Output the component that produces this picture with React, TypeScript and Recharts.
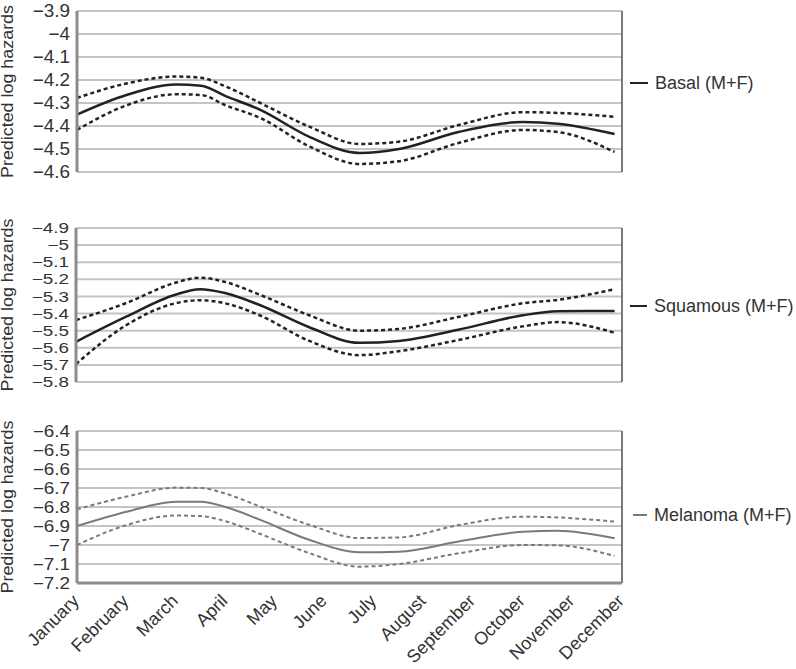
import React from 'react';
import { LineChart, Line, XAxis, YAxis, CartesianGrid, ReferenceLine, Legend } from 'recharts';

const FONT = '"Liberation Sans", Arial, Helvetica, sans-serif';

const MONTHS = ['January', 'February', 'March', 'April', 'May', 'June', 'July', 'August', 'September', 'October', 'November', 'December'];
const MONTH_TICKS = [0, 1, 2, 3, 4, 5, 6, 7, 8, 9, 10, 11];
const WEEK_COUNT = 52;
const WEEK_TICKS = Array.from({ length: WEEK_COUNT + 1 }, (_, k) => (k * 11) / WEEK_COUNT);

// position along the year (in month units, January = 0)
const T = [0, 1, 2, 2.5, 3, 3.7, 4.7, 5.7, 6.5, 7.7, 9, 9.7, 10.85];

const BASAL_EST = [-4.35, -4.265, -4.22, -4.225, -4.27, -4.33, -4.448, -4.517, -4.5, -4.426, -4.383, -4.39, -4.435];
const BASAL_UPPER = [-4.278, -4.215, -4.185, -4.19, -4.228, -4.3, -4.404, -4.478, -4.468, -4.396, -4.34, -4.343, -4.36];
const BASAL_LOWER = [-4.417, -4.31, -4.262, -4.265, -4.31, -4.365, -4.49, -4.565, -4.553, -4.474, -4.417, -4.426, -4.513];

const SQUAMOUS_EST = [-5.565, -5.42, -5.29, -5.258, -5.28, -5.35, -5.48, -5.571, -5.56, -5.495, -5.41, -5.387, -5.385];
const SQUAMOUS_UPPER = [-5.438, -5.34, -5.22, -5.19, -5.215, -5.29, -5.41, -5.5, -5.49, -5.42, -5.34, -5.32, -5.258];
const SQUAMOUS_LOWER = [-5.695, -5.47, -5.34, -5.322, -5.34, -5.41, -5.56, -5.643, -5.62, -5.555, -5.475, -5.45, -5.512];

const MELANOMA_EST = [-6.9, -6.825, -6.772, -6.772, -6.8, -6.868, -6.974, -7.038, -7.035, -6.982, -6.93, -6.925, -6.965];
const MELANOMA_UPPER = [-6.812, -6.745, -6.698, -6.7, -6.73, -6.798, -6.895, -6.963, -6.96, -6.895, -6.851, -6.855, -6.877];
const MELANOMA_LOWER = [-7.0, -6.895, -6.845, -6.848, -6.875, -6.942, -7.044, -7.114, -7.1, -7.044, -7.0, -7.002, -7.058];

const BASAL_TICKS = [-3.9, -4, -4.1, -4.2, -4.3, -4.4, -4.5, -4.6];
const SQUAMOUS_TICKS = [-4.9, -5, -5.1, -5.2, -5.3, -5.4, -5.5, -5.6, -5.7, -5.8];
const MELANOMA_TICKS = [-6.4, -6.5, -6.6, -6.7, -6.8, -6.9, -7, -7.1, -7.2];

const toRows = (est: number[], up: number[], lo: number[]) =>
  T.map((t, i) => ({ t, est: est[i], up: up[i], lo: lo[i] }));

const fmt = (v: number) => String(v).replace('-', '\u2212');

function YLabel(props: any) {
  const vb = props.viewBox || { x: 0, y: 0, width: 0, height: 0 };
  const cx = 13;
  const cy = vb.y + vb.height / 2;
  return (
    <text
      x={cx}
      y={cy}
      transform={`rotate(-90, ${cx}, ${cy})`}
      textAnchor="middle"
      fontSize={16}
      fill="#333"
      fontFamily={FONT}
      textLength={173}
      lengthAdjust="spacingAndGlyphs"
    >
      Predicted log hazards
    </text>
  );
}

function makeYTick(fontSize: number, scaleX: number) {
  return function YTick(props: any) {
    const { x, y, payload } = props;
    return (
      <text
        transform={`translate(${x}, ${y}) scale(${scaleX}, 1)`}
        x={0}
        y={0}
        dy="0.355em"
        textAnchor="end"
        fontSize={fontSize}
        fill="#333"
        fontFamily={FONT}
      >
        {fmt(payload.value)}
      </text>
    );
  };
}

function MonthTick(props: any) {
  const { x, y, payload } = props;
  const ax = x + 3;
  const ay = y + 19;
  return (
    <text
      x={ax}
      y={ay}
      transform={`rotate(-45, ${ax}, ${ay})`}
      textAnchor="end"
      fontSize={18}
      fill="#333"
      fontFamily={FONT}
    >
      {MONTHS[payload.value]}
    </text>
  );
}

type PanelProps = {
  top: number;
  height: number;
  marginTop: number;
  marginBottom: number;
  yWidth: number;
  rows: any[];
  ticks: number[];
  tickFont: number;
  tickScale: number;
  color: string;
  lineWidth: number;
  name: string;
  legendTop: number;
  legendDashLeft: number;
  legendDashWidth: number;
  showMonths: boolean;
};

function Panel(p: PanelProps) {
  const domain = [p.ticks[p.ticks.length - 1], p.ticks[0]];
  const YTick = makeYTick(p.tickFont, p.tickScale);
  return (
    <div style={{ position: 'absolute', left: 0, top: p.top, width: 790, height: p.height }}>
      <LineChart
        width={790}
        height={p.height}
        data={p.rows}
        margin={{ top: p.marginTop, right: 168, bottom: p.marginBottom, left: 0 }}
        style={{ fontFamily: FONT }}
      >
        <CartesianGrid vertical={false} stroke="#c4c4c4" strokeWidth={2} />
        <XAxis
          dataKey="t"
          type="number"
          domain={[0, 11]}
          ticks={MONTH_TICKS}
          interval={0}
          allowDataOverflow
          height={p.showMonths ? 86 : 0}
          axisLine={{ stroke: '#8c8c8c', strokeWidth: 3 }}
          tickLine={false}
          tickSize={0}
          tickMargin={0}
          tick={p.showMonths ? <MonthTick /> : false}
        />
        <XAxis
          xAxisId="weeks"
          type="number"
          orientation="top"
          domain={[0, 11]}
          ticks={WEEK_TICKS}
          interval={0}
          allowDataOverflow
          mirror
          height={0}
          axisLine={{ stroke: '#d0d0d0', strokeWidth: 1 }}
          tickLine={{ stroke: '#666', strokeWidth: 2 }}
          tickSize={3}
          tick={false}
        />
        <YAxis
          type="number"
          domain={domain}
          ticks={p.ticks}
          interval={0}
          allowDataOverflow
          width={p.yWidth}
          axisLine={{ stroke: '#8c8c8c', strokeWidth: 3 }}
          tickLine={false}
          tickSize={0}
          tickMargin={7}
          tick={<YTick />}
          label={<YLabel />}
        />
        <ReferenceLine x={11} stroke="#7a7a7a" strokeWidth={2} />
        <Line type="monotone" dataKey="up" stroke={p.color} strokeWidth={p.lineWidth} strokeDasharray="4 3" dot={false} isAnimationActive={false} />
        <Line type="monotone" dataKey="lo" stroke={p.color} strokeWidth={p.lineWidth} strokeDasharray="4 3" dot={false} isAnimationActive={false} />
        <Line type="monotone" dataKey="est" name={p.name} stroke={p.color} strokeWidth={p.lineWidth} dot={false} isAnimationActive={false} />
        <Legend
          layout="vertical"
          align="center"
          verticalAlign="middle"
          wrapperStyle={{ position: 'absolute', left: p.legendDashLeft, top: p.legendTop, width: 170, height: 22 }}
          content={() => (
            <div style={{ display: 'flex', alignItems: 'center', height: 22, fontSize: 18, color: '#333', fontFamily: FONT, whiteSpace: 'nowrap' }}>
              <span style={{ display: 'inline-block', width: p.legendDashWidth, height: 2, background: p.color, marginRight: 7 }} />
              <span>{p.name}</span>
            </div>
          )}
        />
      </LineChart>
    </div>
  );
}

export default function App() {
  return (
    <div style={{ position: 'absolute', left: 0, top: 0, width: 796, height: 669, background: '#fff', overflow: 'hidden' }}>
      <Panel
        top={0}
        height={187}
        marginTop={11}
        marginBottom={15}
        yWidth={77}
        rows={toRows(BASAL_EST, BASAL_UPPER, BASAL_LOWER)}
        ticks={BASAL_TICKS}
        tickFont={18}
        tickScale={1.05}
        color="#222"
        lineWidth={2.5}
        name="Basal (M+F)"
        legendTop={72}
        legendDashLeft={630}
        legendDashWidth={18}
        showMonths={false}
      />
      <Panel
        top={200}
        height={197}
        marginTop={28}
        marginBottom={15}
        yWidth={76}
        rows={toRows(SQUAMOUS_EST, SQUAMOUS_UPPER, SQUAMOUS_LOWER)}
        ticks={SQUAMOUS_TICKS}
        tickFont={14.5}
        tickScale={1.3}
        color="#222"
        lineWidth={2.5}
        name="Squamous (M+F)"
        legendTop={95}
        legendDashLeft={630}
        legendDashWidth={17}
        showMonths={false}
      />
      <Panel
        top={410}
        height={259}
        marginTop={21}
        marginBottom={0}
        yWidth={77}
        rows={toRows(MELANOMA_EST, MELANOMA_UPPER, MELANOMA_LOWER)}
        ticks={MELANOMA_TICKS}
        tickFont={16}
        tickScale={1.18}
        color="#7a7a7a"
        lineWidth={2}
        name="Melanoma (M+F)"
        legendTop={94}
        legendDashLeft={633}
        legendDashWidth={14}
        showMonths={true}
      />
    </div>
  );
}
